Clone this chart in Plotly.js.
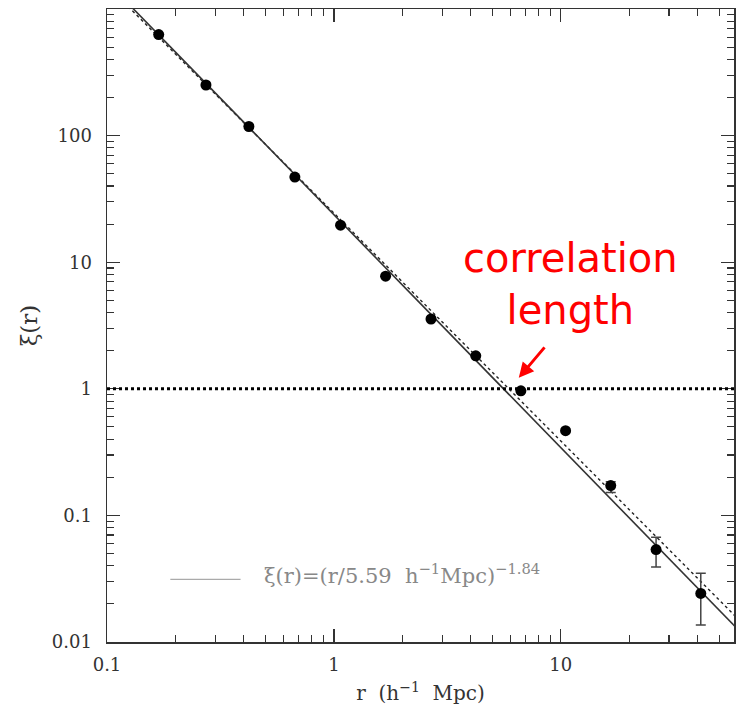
<!DOCTYPE html>
<html>
<head>
<meta charset="utf-8">
<script src="https://cdn.plot.ly/plotly-3.0.1.min.js"></script>
<style>html,body{margin:0;padding:0;background:#fff;}#plot{width:736px;height:714px;}</style>
</head>
<body>
<div id="plot"></div>
<script>
// separation r (h^-1 Mpc)
const rVals = [0.169, 0.273, 0.422, 0.673, 1.07, 1.69, 2.68, 4.22, 6.67, 10.5, 16.6, 26.3, 41.4];
// correlation function xi(r)
const xiVals = [628, 251, 118, 47.0, 19.6, 7.76, 3.56, 1.82, 0.964, 0.467, 0.172, 0.0537, 0.0242];
const errUp = [0, 0, 0, 0, 0, 0, 0, 0, 0, 0, 0.012, 0.0136, 0.0107];
const errDown = [0, 0, 0, 0, 0, 0, 0, 0, 0, 0, 0.020, 0.0145, 0.0106];
// power-law fit xi=(r/5.59)^-1.84 (solid), endpoints
const fitR = [0.1, 60];
const fitXi = [1640, 0.0127];
// alternative fit (dotted)
const altR = [0.1, 60];
const altXi = [1540, 0.0154];
const xTicks = [0.1, 1, 10];
const xTickText = ['0.1', '1', '10'];
const yTicks = [0.01, 0.1, 1, 10, 100];
const yTickText = ['0.01', '0.1', '1', '10', '100'];

const serif = 'DejaVu Serif, serif';

const traces = [
  {x: altR, y: altXi, mode: 'lines', line: {color: '#222', width: 1.4, dash: 'dot'}, hoverinfo: 'skip'},
  {x: fitR, y: fitXi, mode: 'lines', line: {color: '#333', width: 1.6}, hoverinfo: 'skip'},
  {x: rVals, y: xiVals, mode: 'markers',
   marker: {color: '#000', size: 11},
   error_y: {type: 'data', symmetric: false, array: errUp, arrayminus: errDown, color: '#444', thickness: 1.5, width: 5}}
];

const axisCommon = {
  type: 'log', showgrid: false, zeroline: false,
  showline: true, linecolor: '#333', linewidth: 1.5, mirror: 'allticks',
  ticks: 'inside', ticklen: 13, tickwidth: 1.3, tickcolor: '#333',
  tickfont: {family: serif, size: 18, color: '#333'},
  minor: {ticks: 'inside', ticklen: 7, tickwidth: 1.1, tickcolor: '#333', dtick: 'D1'}
};

const layout = {
  width: 736, height: 714,
  margin: {l: 107, r: 2, t: 9, b: 72},
  paper_bgcolor: '#fff', plot_bgcolor: '#fff',
  showlegend: false,
  xaxis: Object.assign({}, axisCommon, {
    range: [-1, Math.log10(58)],
    tickmode: 'array', tickvals: xTicks, ticktext: xTickText,
    ticklabelstandoff: 6,
    title: {text: 'r&nbsp;&nbsp;(h<sup>−1</sup>&nbsp;&nbsp;Mpc)', font: {family: serif, size: 20, color: '#333'}, standoff: 12}
  }),
  yaxis: Object.assign({}, axisCommon, {
    range: [-2, 3],
    tickmode: 'array', tickvals: yTicks, ticktext: yTickText,
    ticklabelstandoff: 10,
    title: {text: 'ξ(r)', font: {family: serif, size: 23, color: '#333'}, standoff: 8}
  }),
  shapes: [
    {type: 'line', xref: 'paper', x0: 0, x1: 1, yref: 'y', y0: 1, y1: 1,
     line: {color: '#000', width: 3, dash: 'dot'}},
    {type: 'line', xref: 'paper', x0: 0.101, x1: 0.213, yref: 'paper', y0: 0.099, y1: 0.099,
     line: {color: '#aaa', width: 1.2}}
  ],
  annotations: [
    {xref: 'paper', yref: 'paper', x: 0.247, y: 0.108, xanchor: 'left', yanchor: 'middle',
     text: 'ξ(r)=(r/5.59&nbsp;&nbsp;h<sup>−1</sup>Mpc)<sup>−1.84</sup>', showarrow: false,
     font: {family: serif, size: 21, color: '#888'}},
    {xref: 'paper', yref: 'paper', x: 0.74, y: 0.565, xanchor: 'center', yanchor: 'middle',
     text: 'correlation<br>length', showarrow: false,
     font: {family: 'DejaVu Sans, sans-serif', size: 40, color: '#ff0000'}},
    {xref: 'x', yref: 'y', x: Math.log10(6.53), y: Math.log10(1.22), text: '', showarrow: true,
     axref: 'pixel', ayref: 'pixel', ax: 27, ay: -32,
     arrowcolor: '#ff0000', arrowwidth: 3, arrowhead: 2, arrowsize: 1, standoff: 0}
  ]
};

Plotly.newPlot('plot', traces, layout, {displayModeBar: false, staticPlot: true});
</script>
</body>
</html>
